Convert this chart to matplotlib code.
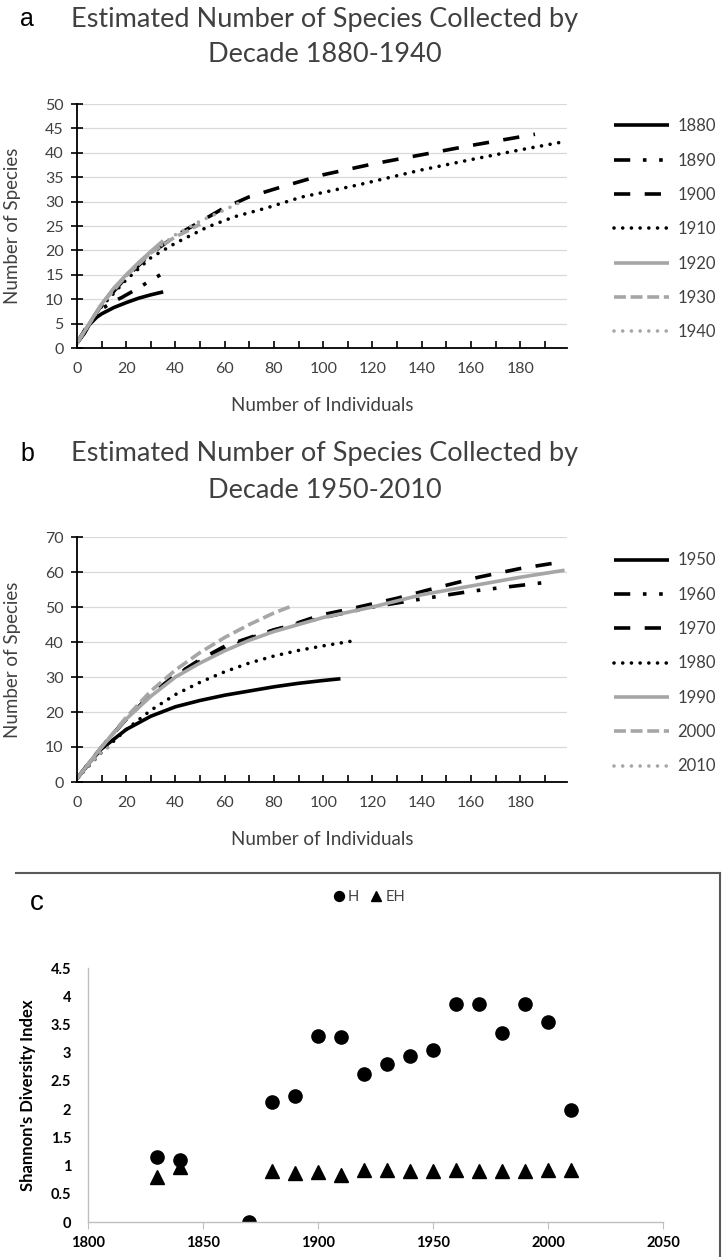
import matplotlib
matplotlib.use("Agg")
import matplotlib.pyplot as plt
from matplotlib.lines import Line2D

plt.rcParams['font.family'] = ['Lato', 'DejaVu Sans']

# ---- panel a: rarefaction curves 1880-1940 ----
decades_a = ['1880', '1890', '1900', '1910', '1920', '1930', '1940']
x_1880 = [0, 3, 5, 8, 10, 15, 20, 25, 30, 35]
y_1880 = [1, 3, 4.8, 6.3, 7, 8.3, 9.3, 10.2, 10.9, 11.5]
x_1890 = [0, 5, 10, 15, 18, 25, 30, 36]
y_1890 = [1, 5.3, 8, 9.6, 10.3, 12.3, 13.9, 15.6]
x_1900 = [0, 5, 10, 20, 30, 40, 47, 59, 70, 83, 100, 120, 140, 160, 186]
y_1900 = [1, 5, 8.8, 14.5, 19.3, 23, 25, 28.5, 31, 33, 35.5, 37.7, 39.6, 41.5, 43.8]
x_1910 = [0, 5, 10, 20, 30, 40, 53, 64, 77, 91, 114, 140, 160, 180, 198]
y_1910 = [1, 5, 8.5, 14, 18.5, 21.5, 24.8, 26.9, 28.7, 30.9, 33.4, 36.5, 38.6, 40.6, 42.3]
x_1920 = [0, 5, 10, 15, 20, 25, 30, 35]
y_1920 = [1, 5, 9, 12.3, 15, 17.5, 19.8, 22]
x_1930 = [0, 10, 20, 30, 40, 45, 50]
y_1930 = [1, 9, 14.8, 19.5, 22.8, 24, 25.4]
x_1940 = [0, 10, 20, 30, 40, 50, 60, 66]
y_1940 = [1, 9, 14.8, 19.5, 23.2, 26, 28.3, 29.8]

# ---- panel b: rarefaction curves 1950-2010 ----
decades_b = ['1950', '1960', '1970', '1980', '1990', '2000', '2010']
x_1950 = [0, 5, 10, 20, 30, 40, 50, 60, 70, 80, 90, 100, 107]
y_1950 = [1, 5.5, 9.5, 15, 18.8, 21.5, 23.3, 24.8, 26, 27.2, 28.2, 29, 29.5]
x_1960 = [0, 10, 20, 30, 40, 50, 60, 70, 80, 100, 120, 140, 160, 190]
y_1960 = [1, 10, 18, 25, 30.5, 34.5, 38, 41, 43.5, 47, 50, 52.3, 54.5, 57]
x_1970 = [0, 10, 20, 30, 40, 50, 60, 72, 86, 99, 110, 130, 146, 163, 180, 198]
y_1970 = [1, 10, 18, 25, 30.5, 35, 38.8, 41.7, 44.6, 47.7, 49.3, 52.5, 55.5, 58.5, 61, 63]
x_1980 = [0, 10, 20, 30, 40, 50, 60, 70, 80, 90, 100, 112]
y_1980 = [1, 8.5, 15, 20.5, 25, 28.5, 31.5, 34, 36, 37.6, 38.9, 40.3]
x_1990 = [0, 10, 20, 30, 40, 50, 60, 70, 80, 100, 120, 140, 160, 180, 198]
y_1990 = [1, 10, 18, 24.5, 30, 34, 37.5, 40.5, 43, 47, 50, 53.5, 56, 58.5, 60.5]
x_2000 = [0, 10, 20, 30, 40, 50, 60, 70, 80, 88]
y_2000 = [1, 10, 18.5, 26, 32, 37, 41.3, 45, 48.3, 50.5]
x_2010 = [0, 5, 10, 13]
y_2010 = [1, 5, 8.5, 10]

# ---- panel c: Shannon diversity ----
years = [1830, 1840, 1870, 1880, 1890, 1900, 1910, 1920, 1930, 1940,
         1950, 1960, 1970, 1980, 1990, 2000, 2010]
H = [1.15, 1.1, 0.0, 2.12, 2.24, 3.3, 3.27, 2.63, 2.8, 2.94,
     3.05, 3.86, 3.86, 3.34, 3.86, 3.55, 1.98]
EH_years = [1830, 1840, 1880, 1890, 1900, 1910, 1920, 1930, 1940,
            1950, 1960, 1970, 1980, 1990, 2000, 2010]
EH = [0.8, 0.98, 0.9, 0.87, 0.89, 0.83, 0.92, 0.92, 0.9,
      0.9, 0.92, 0.91, 0.91, 0.91, 0.93, 0.92]

BLACK = '#000000'
GRAY = '#a6a6a6'
TXT = '#404040'

# line style per position in the decade list: (color, dashes, capstyle)
styles = [
    (BLACK, '-', 'butt'),
    (BLACK, (0, (4.5, 3.5, 1, 3.5, 1, 3.5)), 'butt'),
    (BLACK, (0, (4.5, 4)), 'butt'),
    (BLACK, (0, (0.01, 2.4)), 'round'),
    (GRAY, '-', 'butt'),
    (GRAY, (0, (3.3, 1.3)), 'butt'),
    (GRAY, (0, (0.01, 2.4)), 'round'),
]

W, H_FIG = 722, 1257
fig = plt.figure(figsize=(W / 100, H_FIG / 100), dpi=100)


def px(x, y):
    return x / W, 1 - y / H_FIG


def rect_px(left, top, right, bottom):
    return [left / W, 1 - bottom / H_FIG, (right - left) / W, (bottom - top) / H_FIG]


def curve_panel(rect, xs, ys, labels, ymax, ystep, legend_top):
    ax = fig.add_axes(rect)
    for i in range(len(xs)):
        col, ls, cap = styles[i]
        ax.plot(xs[i], ys[i], color=col, linestyle=ls, lw=2.6,
                dash_capstyle=cap, solid_capstyle='butt', label=labels[i])
    ax.set_xlim(0, 199)
    ax.set_ylim(0, ymax)
    ax.set_yticks(range(0, ymax + 1, ystep))
    ax.set_xticks(range(0, 181, 20))
    ax.set_xticks(range(0, 191, 10), minor=True)
    ax.yaxis.grid(True, color='#d9d9d9', lw=0.9)
    ax.set_axisbelow(True)
    for s in ['top', 'right']:
        ax.spines[s].set_visible(False)
    for s in ['left', 'bottom']:
        ax.spines[s].set_linewidth(1.3)
    ax.tick_params(axis='x', which='both', direction='in', length=5, width=1.2,
                   labelsize=11.5, labelcolor=TXT, pad=10)
    ax.tick_params(axis='y', direction='inout', length=9, width=1.2,
                   labelsize=11.5, labelcolor=TXT, pad=5)
    ax.set_xlabel('Number of Individuals', fontsize=13.5, color=TXT)
    ax.set_ylabel('Number of Species', fontsize=13.5, color=TXT)
    ax.xaxis.set_label_coords(0.5, -0.2)
    ax.yaxis.set_label_coords(-0.115, 0.5)
    fig.legend(*ax.get_legend_handles_labels(), loc='upper left',
               bbox_to_anchor=px(606, legend_top), frameon=False, borderpad=0,
               handlelength=3.3, handletextpad=0.5, labelspacing=1.1,
               fontsize=12, labelcolor=TXT)
    return ax


# panel a
fig.text(*px(20, 19), 'a', fontsize=18, family='Liberation Sans', va='center')
fig.text(*px(325, 19), 'Estimated Number of Species Collected by',
         fontsize=19.5, color=TXT, ha='center', va='center')
fig.text(*px(325, 55), 'Decade 1880-1940', fontsize=19.5, color=TXT,
         ha='center', va='center')
curve_panel(rect_px(77, 104, 567, 348),
            [x_1880, x_1890, x_1900, x_1910, x_1920, x_1930, x_1940],
            [y_1880, y_1890, y_1900, y_1910, y_1920, y_1930, y_1940],
            decades_a, 50, 5, 110)

# panel b
fig.text(*px(20, 454), 'b', fontsize=18, family='Liberation Sans', va='center')
fig.text(*px(325, 454), 'Estimated Number of Species Collected by',
         fontsize=19.5, color=TXT, ha='center', va='center')
fig.text(*px(325, 490), 'Decade 1950-2010', fontsize=19.5, color=TXT,
         ha='center', va='center')
curve_panel(rect_px(77, 537, 567, 782),
            [x_1950, x_1960, x_1970, x_1980, x_1990, x_2000, x_2010],
            [y_1950, y_1960, y_1970, y_1980, y_1990, y_2000, y_2010],
            decades_b, 70, 10, 544)

# panel c box (top and right edges)
fig.add_artist(Line2D([16 / W, 720 / W], [1 - 873 / H_FIG] * 2,
                      transform=fig.transFigure, color='#595959', lw=1.5))
fig.add_artist(Line2D([720 / W] * 2, [1 - 873 / H_FIG, 0],
                      transform=fig.transFigure, color='#595959', lw=1.5))
fig.text(*px(37, 903), 'c', fontsize=20, family='Liberation Sans',
         ha='center', va='center')

axc = fig.add_axes(rect_px(88, 968, 663, 1222))
axc.plot(years, H, 'o', color=BLACK, ms=9.5, label='H')
axc.plot(EH_years, EH, '^', color=BLACK, ms=10, label='EH')
axc.set_xlim(1800, 2050)
axc.set_ylim(0, 4.5)
axc.set_xticks(range(1800, 2051, 50))
axc.set_yticks([0, 0.5, 1, 1.5, 2, 2.5, 3, 3.5, 4, 4.5])
axc.set_yticklabels(['0', '0.5', '1', '1.5', '2', '2.5', '3', '3.5', '4', '4.5'])
for s in ['top', 'right']:
    axc.spines[s].set_visible(False)
for s in ['left', 'bottom']:
    axc.spines[s].set_color('#bfbfbf')
    axc.spines[s].set_linewidth(1.0)
axc.tick_params(axis='x', direction='out', length=5, color='#bfbfbf',
                labelsize=10.5, pad=5)
axc.tick_params(axis='y', length=0, labelsize=10.5, pad=12)
for lbl in axc.get_xticklabels() + axc.get_yticklabels():
    lbl.set_fontweight('bold')
axc.set_ylabel("Shannon's Diversity Index", fontsize=12, fontweight='bold')
axc.yaxis.set_label_coords(-0.09, 0.5)
axc.patch.set_alpha(0)
fig.legend(*axc.get_legend_handles_labels(), loc='center', bbox_to_anchor=px(369, 897),
           ncol=2, frameon=False, fontsize=10.5, labelcolor=TXT, handlelength=0.8,
           handletextpad=0.2, columnspacing=0.8, markerscale=0.75, borderpad=0)

fig.savefig('out.png', dpi=100)
